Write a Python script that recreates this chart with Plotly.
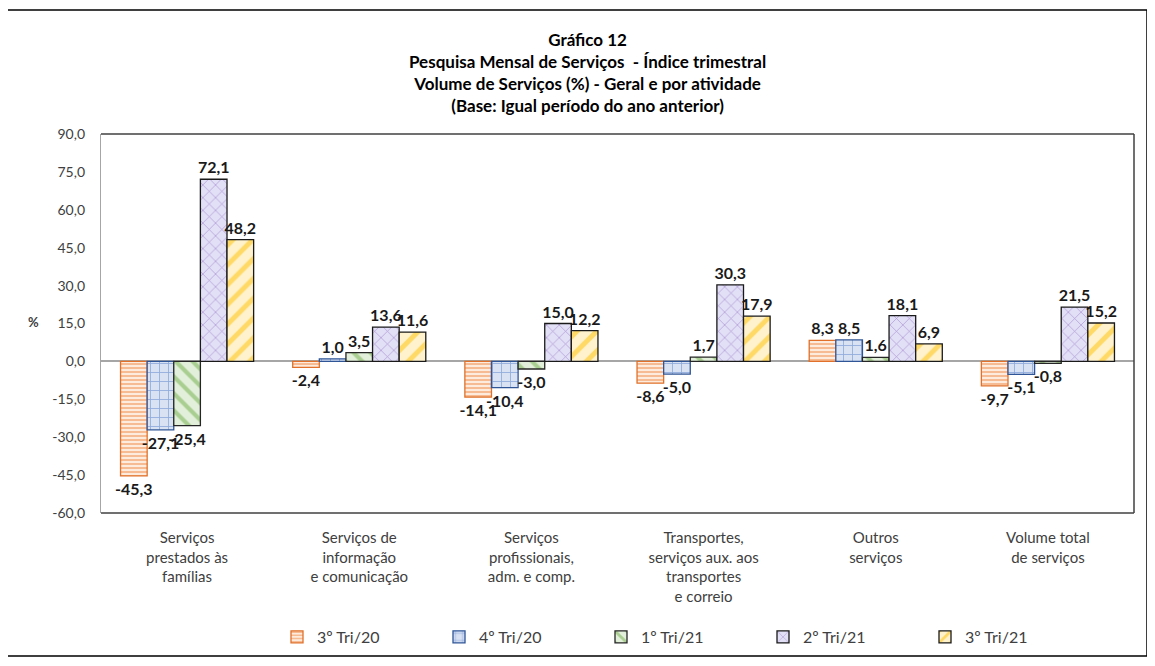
import plotly.graph_objects as go

categories = [
    "Serviços<br>prestados às<br>famílias",
    "Serviços de<br>informação<br>e comunicação",
    "Serviços<br>profissionais,<br>adm. e comp.",
    "Transportes,<br>serviços aux. aos<br>transportes<br>e correio",
    "Outros<br>serviços",
    "Volume total<br>de serviços",
]
series_names = ["3º Tri/20", "4º Tri/20", "1º Tri/21", "2º Tri/21", "3º Tri/21"]
tri3_20 = [-45.3, -2.4, -14.1, -8.6, 8.3, -9.7]
tri4_20 = [-27.1, 1.0, -10.4, -5.0, 8.5, -5.1]
tri1_21 = [-25.4, 3.5, -3.0, 1.7, 1.6, -0.8]
tri2_21 = [72.1, 13.6, 15.0, 30.3, 18.1, 21.5]
tri3_21 = [48.2, 11.6, 12.2, 17.9, 6.9, 15.2]
series_values = [tri3_20, tri4_20, tri1_21, tri2_21, tri3_21]
y_ticks = [90, 75, 60, 45, 30, 15, 0, -15, -30, -45, -60]


def br(v):
    return f"{v:.1f}".replace(".", ",")


styles = [
    dict(shape="-", fg="#F08C4A", bg="#FDEBDD", size=4, sol=0.5, line="#E0702A"),
    dict(shape="+", fg="#4472C4", bg="#D9E2F3", size=9, sol=0.18, line="#2F5597"),
    dict(shape="\\", fg="#70AD47", bg="#E2EFDA", size=12, sol=0.35, line="#262626"),
    dict(shape="x", fg="#7A4FB0", bg="#E2E0F6", size=9, sol=0.15, line="#1A1A1A"),
    dict(shape="/", fg="#FFC000", bg="#FFF2CC", size=14, sol=0.35, line="#1A1A1A"),
]

FONT = "Lato, Calibri, 'Open Sans', sans-serif"

fig = go.Figure()
for name, vals, st in zip(series_names, series_values, styles):
    fig.add_trace(go.Bar(
        x=categories, y=vals, name=name,
        text=[br(v) for v in vals],
        texttemplate="%{text}",
        marker=dict(
            color=st["bg"],
            line=dict(color=st["line"], width=1.3),
            pattern=dict(shape=st["shape"], fgcolor=st["fg"], bgcolor=st["bg"],
                         size=st["size"], solidity=st["sol"], fillmode="overlay"),
        ),
        textposition="outside",
        constraintext="none",
        cliponaxis=False,
        textfont=dict(family=FONT, size=16, color="#1A1A1A", weight="bold"),
        outsidetextfont=dict(family=FONT, size=16, color="#1A1A1A", weight="bold"),
    ))

OFF = 8  # page body margin
W, H = 1155 - 2 * OFF, 666 - 2 * OFF
L, R, T, B = 101 - OFF, 1134 - OFF, 134 - OFF, 513 - OFF
pw, ph = R - L, B - T


def px(x):
    return (x - OFF - L) / pw


def py(y):
    return (B - (y - OFF)) / ph


fig.update_layout(
    width=W, height=H,
    margin=dict(l=L, r=W - R, t=T, b=H - B, autoexpand=False),
    paper_bgcolor="white", plot_bgcolor="white",
    barmode="group", bargap=0.227, bargroupgap=0,
    font=dict(family=FONT, color="#404040"),
    showlegend=True,
    legend=dict(
        orientation="h", x=px(277), xanchor="left", y=py(637), yanchor="middle",
        font=dict(family=FONT, size=16, color="#404040"),
        entrywidth=117, entrywidthmode="pixels", itemwidth=30,
        bgcolor="rgba(0,0,0,0)",
    ),
    xaxis=dict(
        showline=False, ticks="", showgrid=False, ticklabelstandoff=14,
        tickfont=dict(family=FONT, size=15, color="#404040"),
    ),
    yaxis=dict(
        range=[-60, 90], tickvals=y_ticks, ticktext=[br(v) for v in y_ticks],
        showgrid=False, ticks="", showline=True, linecolor="#A6A6A6", linewidth=1.3,
        zeroline=True, zerolinecolor="#A6A6A6", zerolinewidth=1.5,
        ticklabelstandoff=12,
        tickfont=dict(family=FONT, size=14, color="#404040"),
    ),
)

# plot-area border (top, right, bottom)
for (x0, y0, x1, y1) in [(0, 1, 1, 1), (1, 1, 1, 0), (0, 0, 1, 0)]:
    fig.add_shape(type="line", xref="paper", yref="paper", x0=x0, y0=y0, x1=x1, y1=y1,
                  line=dict(color="#404040", width=1.5))

# outer chart border
fig.add_shape(type="rect", xref="paper", yref="paper",
              x0=px(7), x1=px(1147), y0=py(656), y1=py(10),
              line=dict(color="#000000", width=1.5), layer="below")

fig.add_annotation(
    xref="paper", yref="paper", x=px(587), y=py(72.5), xanchor="center", yanchor="middle",
    text="Gráfico 12<br>Pesquisa Mensal de Serviços  - Índice trimestral<br>"
         "Volume de Serviços (%) - Geral e por atividade<br>(Base: Igual período do ano anterior)",
    showarrow=False, align="center",
    font=dict(family=FONT, size=17, color="#000000", weight="bold"),
)
fig.add_annotation(
    xref="paper", yref="paper", x=px(33), y=py(322), xanchor="center", yanchor="middle",
    text="%", showarrow=False,
    font=dict(family=FONT, size=13, color="#404040", weight="bold"),
)

fig.write_html("out.html")
